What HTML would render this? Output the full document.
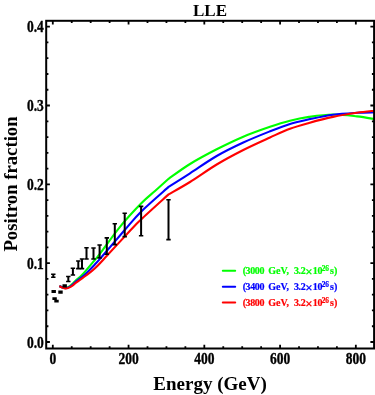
<!DOCTYPE html>
<html><head><meta charset="utf-8"><style>
html,body{margin:0;padding:0;background:#fff;}
body{width:375px;height:395px;position:relative;overflow:hidden;font-family:"Liberation Serif",serif;font-weight:bold;color:#000;}
.t{position:absolute;white-space:nowrap;line-height:1;}
#w{position:absolute;left:0;top:0;width:375px;height:395px;will-change:transform;}
.xl,.yl{-webkit-text-stroke:0.3px #000;}
.xl{font-size:13.5px;transform:translateX(-50%) scaleY(1.23);top:352.3px;}
.yl{font-size:13.5px;right:331.2px;transform:translateY(-50%) scaleY(1.23);}
.lg{font-size:10px;-webkit-text-stroke:0.2px currentColor;}
.lg .d{letter-spacing:-0.4px;}
.lg .x{font-size:13px;top:-0.8px;}
.lg .p{font-size:7.4px;top:-2.8px;letter-spacing:-0.3px}
</style></head><body>
<svg width="375" height="395" viewBox="0 0 375 395" style="position:absolute;left:0;top:0">
<defs><clipPath id="c"><rect x="46.2" y="20.8" width="327.9" height="327.7"/></clipPath></defs>
<g clip-path="url(#c)" fill="none" stroke-width="2.1" stroke-linejoin="round">
<path d="M59.40,286.00 C59.83,286.22 61.02,286.97 62.00,287.30 C62.98,287.63 64.13,288.12 65.30,288.00 C66.47,287.88 67.80,287.30 69.00,286.60 C70.20,285.90 71.33,284.87 72.50,283.80 C73.67,282.73 74.42,281.67 76.00,280.20 C77.58,278.73 78.83,278.42 82.00,275.00 C85.17,271.58 92.00,263.25 95.00,259.70 C98.00,256.15 95.83,259.18 100.00,253.70 C104.17,248.22 113.12,235.20 120.00,226.80 C126.88,218.40 135.47,209.27 141.30,203.30 C147.13,197.33 150.45,195.08 155.00,191.00 C159.55,186.92 166.33,180.83 168.60,178.80 C172.17,176.33 181.98,168.92 190.00,164.00 C198.02,159.08 207.82,153.85 216.70,149.30 C225.58,144.75 234.42,140.45 243.30,136.70 C252.18,132.95 262.22,129.47 270.00,126.80 C277.78,124.13 283.50,122.35 290.00,120.70 C296.50,119.05 301.83,117.93 309.00,116.90 C316.17,115.87 325.00,114.58 333.00,114.50 C341.00,114.42 350.00,115.62 357.00,116.40 C364.00,117.18 372.00,118.73 375.00,119.20" stroke="#00ff00"/>
<path d="M59.40,286.00 C59.83,286.22 61.00,286.93 62.00,287.30 C63.00,287.67 64.23,288.23 65.40,288.20 C66.57,288.17 67.82,287.68 69.00,287.10 C70.18,286.52 71.33,285.63 72.50,284.70 C73.67,283.77 74.02,283.12 76.00,281.50 C77.98,279.88 81.23,277.87 84.40,275.00 C87.57,272.13 92.07,267.38 95.00,264.30 C97.93,261.22 97.05,262.22 102.00,256.50 C106.95,250.78 118.15,237.52 124.70,230.00 C131.25,222.48 133.98,218.58 141.30,211.40 C148.62,204.22 164.05,190.98 168.60,186.90 C172.17,184.63 181.98,178.45 190.00,173.30 C198.02,168.15 207.82,161.13 216.70,156.00 C225.58,150.87 234.42,146.62 243.30,142.50 C252.18,138.38 262.22,134.40 270.00,131.30 C277.78,128.20 283.50,125.90 290.00,123.90 C296.50,121.90 301.83,120.83 309.00,119.30 C316.17,117.77 325.00,115.78 333.00,114.70 C341.00,113.62 350.00,113.20 357.00,112.80 C364.00,112.40 372.00,112.38 375.00,112.30" stroke="#0000ff"/>
<path d="M59.40,286.00 C59.83,286.23 60.98,287.00 62.00,287.40 C63.02,287.80 64.33,288.37 65.50,288.40 C66.67,288.43 67.83,288.07 69.00,287.60 C70.17,287.13 71.33,286.42 72.50,285.60 C73.67,284.78 73.62,284.47 76.00,282.70 C78.38,280.93 83.63,277.40 86.80,275.00 C89.97,272.60 91.97,271.17 95.00,268.30 C98.03,265.43 99.05,264.18 105.00,257.80 C110.95,251.42 124.65,236.42 130.70,230.00 C136.75,223.58 134.98,225.23 141.30,219.30 C147.62,213.37 164.05,198.55 168.60,194.40 C172.17,192.33 181.98,186.98 190.00,182.00 C198.02,177.02 207.82,169.83 216.70,164.50 C225.58,159.17 234.42,154.50 243.30,150.00 C252.18,145.50 262.22,141.05 270.00,137.50 C277.78,133.95 283.50,131.13 290.00,128.70 C296.50,126.27 301.83,124.87 309.00,122.90 C316.17,120.93 325.00,118.58 333.00,116.90 C341.00,115.22 350.00,113.83 357.00,112.80 C364.00,111.77 372.00,111.05 375.00,110.70" stroke="#ff0000"/>
</g>
<g stroke="#000" stroke-width="2" fill="none">
<path d="M53.3,274.3 V277.2" stroke-width="2"/><path d="M51.1,274.3 h4.4 M51.1,277.2 h4.4" stroke-width="1.6"/>
<path d="M53.7,290.9 V292.1" stroke-width="2"/><path d="M51.5,290.9 h4.4 M51.5,292.1 h4.4" stroke-width="1.6"/>
<path d="M54.6,298.1 V299.3" stroke-width="2"/><path d="M52.4,298.1 h4.4 M52.4,299.3 h4.4" stroke-width="1.6"/>
<path d="M56.5,300.5 V301.8" stroke-width="2"/><path d="M54.3,300.5 h4.4 M54.3,301.8 h4.4" stroke-width="1.6"/>
<path d="M60.5,291.4 V293.0" stroke-width="2"/><path d="M58.3,291.4 h4.4 M58.3,293.0 h4.4" stroke-width="1.6"/>
<path d="M64.7,285.1 V286.7" stroke-width="2"/><path d="M62.5,285.1 h4.4 M62.5,286.7 h4.4" stroke-width="1.6"/>
<path d="M68.3,276.5 V281.5" stroke-width="2"/><path d="M66.1,276.5 h4.4 M66.1,281.5 h4.4" stroke-width="1.6"/>
<path d="M72.9,268.3 V275.0" stroke-width="2"/><path d="M70.7,268.3 h4.4 M70.7,275.0 h4.4" stroke-width="1.6"/>
<path d="M78.3,261.0 V268.6" stroke-width="2"/><path d="M76.1,261.0 h4.4 M76.1,268.6 h4.4" stroke-width="1.6"/>
<path d="M82.0,259.0 V268.6" stroke-width="2"/><path d="M79.8,259.0 h4.4 M79.8,268.6 h4.4" stroke-width="1.6"/>
<path d="M86.5,247.8 V259.0" stroke-width="2"/><path d="M84.3,247.8 h4.4 M84.3,259.0 h4.4" stroke-width="1.6"/>
<path d="M93.5,248.0 V259.0" stroke-width="2"/><path d="M91.3,248.0 h4.4 M91.3,259.0 h4.4" stroke-width="1.6"/>
<path d="M99.6,245.0 V257.9" stroke-width="2"/><path d="M97.4,245.0 h4.4 M97.4,257.9 h4.4" stroke-width="1.6"/>
<path d="M106.8,237.9 V254.2" stroke-width="2"/><path d="M104.6,237.9 h4.4 M104.6,254.2 h4.4" stroke-width="1.6"/>
<path d="M114.8,223.8 V244.6" stroke-width="2"/><path d="M112.6,223.8 h4.4 M112.6,244.6 h4.4" stroke-width="1.6"/>
<path d="M124.7,213.3 V236.6" stroke-width="2"/><path d="M122.5,213.3 h4.4 M122.5,236.6 h4.4" stroke-width="1.6"/>
<path d="M141.1,206.4 V235.8" stroke-width="2"/><path d="M138.9,206.4 h4.4 M138.9,235.8 h4.4" stroke-width="1.6"/>
<path d="M168.5,199.8 V239.6" stroke-width="2"/><path d="M166.3,199.8 h4.4 M166.3,239.6 h4.4" stroke-width="1.6"/>
</g>
<rect x="46.2" y="20.8" width="327.9" height="327.7" fill="none" stroke="#000" stroke-width="2"/>
<path d="M52.80,348.5 v-3.7 M52.80,20.8 v3.7 M71.74,348.5 v-2.2 M71.74,20.8 v2.2 M90.68,348.5 v-2.2 M90.68,20.8 v2.2 M109.62,348.5 v-2.2 M109.62,20.8 v2.2 M128.56,348.5 v-3.7 M128.56,20.8 v3.7 M147.50,348.5 v-2.2 M147.50,20.8 v2.2 M166.44,348.5 v-2.2 M166.44,20.8 v2.2 M185.38,348.5 v-2.2 M185.38,20.8 v2.2 M204.32,348.5 v-3.7 M204.32,20.8 v3.7 M223.26,348.5 v-2.2 M223.26,20.8 v2.2 M242.20,348.5 v-2.2 M242.20,20.8 v2.2 M261.14,348.5 v-2.2 M261.14,20.8 v2.2 M280.08,348.5 v-3.7 M280.08,20.8 v3.7 M299.02,348.5 v-2.2 M299.02,20.8 v2.2 M317.96,348.5 v-2.2 M317.96,20.8 v2.2 M336.90,348.5 v-2.2 M336.90,20.8 v2.2 M355.84,348.5 v-3.7 M355.84,20.8 v3.7 M46.2,342.00 h3.7 M374.1,342.00 h-3.7 M46.2,326.23 h2.2 M374.1,326.23 h-2.2 M46.2,310.47 h2.2 M374.1,310.47 h-2.2 M46.2,294.70 h2.2 M374.1,294.70 h-2.2 M46.2,278.94 h2.2 M374.1,278.94 h-2.2 M46.2,263.17 h3.7 M374.1,263.17 h-3.7 M46.2,247.40 h2.2 M374.1,247.40 h-2.2 M46.2,231.64 h2.2 M374.1,231.64 h-2.2 M46.2,215.87 h2.2 M374.1,215.87 h-2.2 M46.2,200.11 h2.2 M374.1,200.11 h-2.2 M46.2,184.34 h3.7 M374.1,184.34 h-3.7 M46.2,168.57 h2.2 M374.1,168.57 h-2.2 M46.2,152.81 h2.2 M374.1,152.81 h-2.2 M46.2,137.04 h2.2 M374.1,137.04 h-2.2 M46.2,121.28 h2.2 M374.1,121.28 h-2.2 M46.2,105.51 h3.7 M374.1,105.51 h-3.7 M46.2,89.74 h2.2 M374.1,89.74 h-2.2 M46.2,73.98 h2.2 M374.1,73.98 h-2.2 M46.2,58.21 h2.2 M374.1,58.21 h-2.2 M46.2,42.45 h2.2 M374.1,42.45 h-2.2 M46.2,26.68 h3.7 M374.1,26.68 h-3.7" stroke="#000" stroke-width="1.8" fill="none"/>
<path d="M222.8,270.80 H235.2" stroke="#00ff00" stroke-width="2" stroke-linecap="round"/>
<path d="M222.8,286.65 H235.2" stroke="#0000ff" stroke-width="2" stroke-linecap="round"/>
<path d="M222.8,302.50 H235.2" stroke="#ff0000" stroke-width="2" stroke-linecap="round"/>
</svg>
<div id="w"><div class="t" style="font-size:17px;left:210px;top:1.8px;transform:translateX(-50%)">LLE</div>
<div class="t" style="font-size:19px;left:210px;top:373.6px;transform:translateX(-50%)">Energy (GeV)</div>
<div class="t" style="font-size:18.7px;left:10.5px;top:184.1px;transform:translate(-50%,-50%) rotate(-90deg)">Positron fraction</div>
<div class="t xl" style="left:52.8px">0</div><div class="t xl" style="left:128.6px">200</div><div class="t xl" style="left:204.3px">400</div><div class="t xl" style="left:280.1px">600</div><div class="t xl" style="left:355.8px">800</div>
<div class="t yl" style="top:342.5px">0.0</div><div class="t yl" style="top:263.7px">0.1</div><div class="t yl" style="top:184.8px">0.2</div><div class="t yl" style="top:106.0px">0.3</div><div class="t yl" style="top:27.2px">0.4</div>
<div class="t lg" style="left:242.7px;top:265.8px;color:#00ff00"><span class="d" style="position:relative">(3000</span></div><div class="t lg" style="left:268.3px;top:265.8px;color:#00ff00"><span class="" style="position:relative">GeV,</span></div><div class="t lg" style="left:294.0px;top:265.8px;color:#00ff00"><span class="d" style="position:relative">3.2</span></div><div class="t lg" style="left:305.3px;top:265.8px;color:#00ff00"><span class="x" style="position:relative">&times;</span></div><div class="t lg" style="left:312.8px;top:265.8px;color:#00ff00"><span class="d" style="position:relative">10</span></div><div class="t lg" style="left:321.8px;top:265.8px;color:#00ff00"><span class="p" style="position:relative">26</span></div><div class="t lg" style="left:330.1px;top:265.8px;color:#00ff00"><span class="" style="position:relative">s)</span></div><div class="t lg" style="left:242.7px;top:281.6px;color:#0000ff"><span class="d" style="position:relative">(3400</span></div><div class="t lg" style="left:268.3px;top:281.6px;color:#0000ff"><span class="" style="position:relative">GeV,</span></div><div class="t lg" style="left:294.0px;top:281.6px;color:#0000ff"><span class="d" style="position:relative">3.2</span></div><div class="t lg" style="left:305.3px;top:281.6px;color:#0000ff"><span class="x" style="position:relative">&times;</span></div><div class="t lg" style="left:312.8px;top:281.6px;color:#0000ff"><span class="d" style="position:relative">10</span></div><div class="t lg" style="left:321.8px;top:281.6px;color:#0000ff"><span class="p" style="position:relative">26</span></div><div class="t lg" style="left:330.1px;top:281.6px;color:#0000ff"><span class="" style="position:relative">s)</span></div><div class="t lg" style="left:242.7px;top:297.5px;color:#ff0000"><span class="d" style="position:relative">(3800</span></div><div class="t lg" style="left:268.3px;top:297.5px;color:#ff0000"><span class="" style="position:relative">GeV,</span></div><div class="t lg" style="left:294.0px;top:297.5px;color:#ff0000"><span class="d" style="position:relative">3.2</span></div><div class="t lg" style="left:305.3px;top:297.5px;color:#ff0000"><span class="x" style="position:relative">&times;</span></div><div class="t lg" style="left:312.8px;top:297.5px;color:#ff0000"><span class="d" style="position:relative">10</span></div><div class="t lg" style="left:321.8px;top:297.5px;color:#ff0000"><span class="p" style="position:relative">26</span></div><div class="t lg" style="left:330.1px;top:297.5px;color:#ff0000"><span class="" style="position:relative">s)</span></div>
</div></body></html>
